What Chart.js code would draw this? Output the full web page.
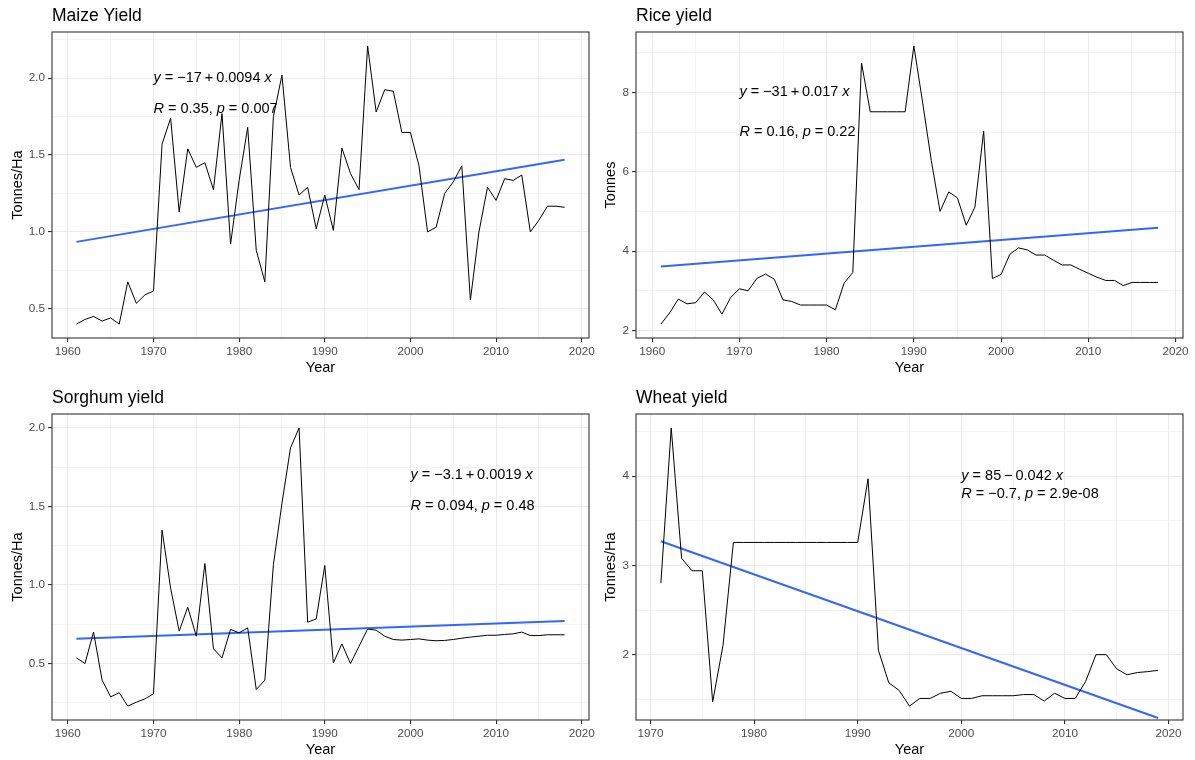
<!DOCTYPE html>
<html>
<head>
<meta charset="utf-8">
<script src="https://cdn.jsdelivr.net/npm/chart.js@4.4.1/dist/chart.umd.min.js"></script>
<style>
  body { margin: 0; background: #fff; width: 1195px; height: 760px; overflow: hidden; position: relative; }
  canvas { position: absolute; }
</style>
</head>
<body>
<canvas id="maize"></canvas>
<canvas id="rice"></canvas>
<canvas id="sorghum"></canvas>
<canvas id="wheat"></canvas>
<script>
// ---- data ----
const yearsA = [1961,1962,1963,1964,1965,1966,1967,1968,1969,1970,
                1971,1972,1973,1974,1975,1976,1977,1978,1979,1980,
                1981,1982,1983,1984,1985,1986,1987,1988,1989,1990,
                1991,1992,1993,1994,1995,1996,1997,1998,1999,2000,
                2001,2002,2003,2004,2005,2006,2007,2008,2009,2010,
                2011,2012,2013,2014,2015,2016,2017,2018];
const yearsWheat = [1971,1972,1973,1974,1975,1976,1977,1978,1979,1980,
                    1981,1982,1983,1984,1985,1986,1987,1988,1989,1990,
                    1991,1992,1993,1994,1995,1996,1997,1998,1999,2000,
                    2001,2002,2003,2004,2005,2006,2007,2008,2009,2010,
                    2011,2012,2013,2014,2015,2016,2017,2018,2019];

const maizeYield = [0.40,0.43,0.45,0.42,0.44,0.40,0.675,0.535,0.59,0.615,
                    1.57,1.74,1.13,1.54,1.42,1.45,1.275,1.77,0.92,1.335,
                    1.68,0.88,0.675,1.75,2.02,1.42,1.24,1.29,1.02,1.24,
                    1.01,1.545,1.38,1.275,2.21,1.78,1.925,1.915,1.647,1.647,
                    1.43,1.0,1.03,1.25,1.325,1.43,0.556,1.0,1.29,1.205,
                    1.346,1.335,1.37,1.0,1.076,1.167,1.167,1.16];
const riceYield = [2.16,2.44,2.79,2.67,2.70,2.97,2.77,2.41,2.83,3.05,
                   3.0,3.31,3.42,3.29,2.77,2.73,2.64,2.64,2.64,2.64,
                   2.52,3.19,3.46,8.74,7.51,7.51,7.51,7.51,7.51,9.17,
                   7.75,6.28,5.0,5.49,5.34,4.65,5.11,7.02,3.31,3.41,
                   3.92,4.08,4.03,3.90,3.90,3.77,3.65,3.65,3.54,3.44,
                   3.34,3.26,3.26,3.13,3.21,3.21,3.21,3.21];
const sorghumYield = [0.536,0.50,0.70,0.394,0.288,0.314,0.229,0.254,0.275,0.307,
                      1.349,0.98,0.706,0.859,0.674,1.137,0.594,0.536,0.717,0.695,
                      0.727,0.335,0.394,1.13,1.52,1.873,2.0,0.763,0.784,1.124,
                      0.504,0.625,0.50,0.61,0.72,0.712,0.674,0.653,0.649,0.653,
                      0.657,0.649,0.645,0.647,0.653,0.661,0.668,0.674,0.68,0.68,
                      0.685,0.689,0.70,0.678,0.678,0.683,0.683,0.683];
const wheatYield = [2.80,4.54,3.08,2.94,2.94,1.47,2.105,3.257,3.257,3.257,
                    3.257,3.257,3.257,3.257,3.257,3.257,3.257,3.257,3.257,3.257,
                    3.97,2.05,1.685,1.60,1.424,1.51,1.51,1.568,1.59,1.51,
                    1.51,1.54,1.54,1.54,1.54,1.553,1.553,1.48,1.568,1.51,
                    1.51,1.70,2.0,2.0,1.84,1.775,1.80,1.81,1.825];

// fitted lm lines (end points)
const trendYearsA = [1961, 2018];
const trendYearsWheat = [1971, 2019];
const maizeTrend = [0.935, 1.47];
const riceTrend = [3.61, 4.59];
const sorghumTrend = [0.657, 0.77];
const wheatTrend = [3.27, 1.29];

// tick positions
const xMajorA = [1960,1970,1980,1990,2000,2010,2020];
const xMinorA = [1965,1975,1985,1995,2005,2015];
const xMajorWheat = [1970,1980,1990,2000,2010,2020];
const xMinorWheat = [1975,1985,1995,2005,2015];
const maizeYMajor = [0.5,1.0,1.5,2.0];
const maizeYMinor = [0.75,1.25,1.75,2.25];
const riceYMajor = [2,4,6,8];
const riceYMinor = [3,5,7,9];
const sorghumYMajor = [0.5,1.0,1.5,2.0];
const sorghumYMinor = [0.25,0.75,1.25,1.75];
const wheatYMajor = [2,3,4];
const wheatYMinor = [1.5,2.5,3.5,4.5];

// regression labels: [x, y of equation, y of R row]
const maizeLabelAt = [1970, 2.0, 1.8];
const riceLabelAt = [1970, 8, 7];
const sorghumLabelAt = [2000, 1.7, 1.5];
const wheatLabelAt = [2000, 4.0, 3.8];

const FONT = '"Liberation Sans", Arial, sans-serif';
Chart.defaults.font.family = FONT;

function expand(vals) {
  const lo = Math.min(...vals), hi = Math.max(...vals);
  const d = (hi - lo) * 0.05;
  return [lo - d, hi + d];
}

function drawRich(ctx, parts, x, y) {
  ctx.textAlign = 'left';
  parts.forEach(([txt, it]) => {
    ctx.font = (it ? 'italic ' : '') + '14.5px ' + FONT;
    ctx.fillText(txt, x, y);
    x += ctx.measureText(txt).width;
  });
}

const ggPanel = {
  id: 'ggPanel',
  afterDatasetsDraw(chart, args, o) {
    const {ctx, chartArea: a, scales: {x, y}} = chart;
    ctx.save();
    ctx.fillStyle = '#000';
    ctx.textBaseline = 'middle';
    const lx = x.getPixelForValue(o.labelAt[0]);
    drawRich(ctx, o.eq, lx, y.getPixelForValue(o.labelAt[1]));
    drawRich(ctx, o.rp, lx, y.getPixelForValue(o.labelAt[2]));

    ctx.strokeStyle = '#333333';
    ctx.lineWidth = 1.1;
    ctx.strokeRect(a.left, a.top, a.right - a.left, a.bottom - a.top);

    ctx.textBaseline = 'alphabetic';
    ctx.font = '17.5px ' + FONT;
    ctx.fillText(o.title, a.left, a.top - 11);

    ctx.font = '14.5px ' + FONT;
    ctx.textAlign = 'center';
    ctx.textBaseline = 'middle';
    ctx.fillText('Year', (a.left + a.right) / 2, a.bottom + 30);
    ctx.translate(a.left - o.yTitleGap, (a.top + a.bottom) / 2);
    ctx.rotate(-Math.PI / 2);
    ctx.fillText(o.yTitle, 0, 0);
    ctx.restore();
  }
};

function axis(range, major, minor, decimals, fitSize, horizontal) {
  return {
    type: 'linear',
    min: range[0], max: range[1],
    afterBuildTicks: s => { s.ticks = major.concat(minor).sort((a, b) => a - b).map(v => ({value: v})); },
    afterFit: s => { if (horizontal) s.height = fitSize; else s.width = fitSize; },
    border: {display: false},
    grid: {
      color: '#EBEBEB',
      lineWidth: c => major.includes(c.tick.value) ? 1.1 : 0.55,
      tickColor: c => major.includes(c.tick.value) ? '#333333' : 'rgba(0,0,0,0)',
      tickWidth: 1.1,
      tickLength: 4,
      drawTicks: true
    },
    ticks: {
      autoSkip: false, maxRotation: 0, padding: 3,
      color: '#4D4D4D', font: {size: 11.7},
      callback: v => major.includes(v) ? v.toFixed(decimals) : ''
    }
  };
}

function panel(p) {
  const cv = document.getElementById(p.id);
  const b = p.box;
  cv.width = b.cw; cv.height = b.ch;
  cv.style.left = b.cl + 'px'; cv.style.top = b.ct + 'px';
  new Chart(cv.getContext('2d'), {
    type: 'line',
    data: {
      datasets: [
        {data: p.years.map((yr, i) => ({x: yr, y: p.values[i]})),
         borderColor: '#000', borderWidth: 1, pointRadius: 0, tension: 0},
        {data: p.trendX.map((yr, i) => ({x: yr, y: p.trendY[i]})),
         borderColor: '#3366FF', borderWidth: 2, pointRadius: 0}
      ]
    },
    options: {
      responsive: false, animation: false, events: [],
      layout: {padding: {top: b.t - b.ct, right: b.cl + b.cw - b.r, left: 0, bottom: 0}},
      plugins: {
        legend: {display: false}, tooltip: {enabled: false},
        ggPanel: {title: p.title, yTitle: p.yTitle, yTitleGap: p.yTitleGap,
                  labelAt: p.labelAt, eq: p.eq, rp: p.rp}
      },
      scales: {
        x: axis(expand(p.years), p.xMajor, p.xMinor, 0, b.ct + b.ch - b.b, true),
        y: axis(expand(p.values), p.yMajor, p.yMinor, p.dec, b.l - b.cl, false)
      }
    },
    plugins: [ggPanel]
  });
}

panel({id: 'maize', title: 'Maize Yield', yTitle: 'Tonnes/Ha', yTitleGap: 34,
  years: yearsA, values: maizeYield, trendX: trendYearsA, trendY: maizeTrend,
  xMajor: xMajorA, xMinor: xMinorA, yMajor: maizeYMajor, yMinor: maizeYMinor, dec: 1,
  labelAt: maizeLabelAt,
  eq: [['y', true], [' = \u221217\u2009+\u20090.0094 ', false], ['x', true]],
  rp: [['R', true], [' = 0.35, ', false], ['p', true], [' = 0.007', false]],
  box: {cl: 0, ct: 0, cw: 612, ch: 380, l: 52, t: 32, r: 589, b: 338}});

panel({id: 'rice', title: 'Rice yield', yTitle: 'Tonnes', yTitleGap: 25,
  years: yearsA, values: riceYield, trendX: trendYearsA, trendY: riceTrend,
  xMajor: xMajorA, xMinor: xMinorA, yMajor: riceYMajor, yMinor: riceYMinor, dec: 0,
  labelAt: riceLabelAt,
  eq: [['y', true], [' = \u221231\u2009+\u20090.017 ', false], ['x', true]],
  rp: [['R', true], [' = 0.16, ', false], ['p', true], [' = 0.22', false]],
  box: {cl: 597, ct: 0, cw: 598, ch: 380, l: 636, t: 32, r: 1183, b: 338}});

panel({id: 'sorghum', title: 'Sorghum yield', yTitle: 'Tonnes/Ha', yTitleGap: 34,
  years: yearsA, values: sorghumYield, trendX: trendYearsA, trendY: sorghumTrend,
  xMajor: xMajorA, xMinor: xMinorA, yMajor: sorghumYMajor, yMinor: sorghumYMinor, dec: 1,
  labelAt: sorghumLabelAt,
  eq: [['y', true], [' = \u22123.1\u2009+\u20090.0019 ', false], ['x', true]],
  rp: [['R', true], [' = 0.094, ', false], ['p', true], [' = 0.48', false]],
  box: {cl: 0, ct: 380, cw: 612, ch: 380, l: 52, t: 414, r: 589, b: 720}});

panel({id: 'wheat', title: 'Wheat yield', yTitle: 'Tonnes/Ha', yTitleGap: 25,
  years: yearsWheat, values: wheatYield, trendX: trendYearsWheat, trendY: wheatTrend,
  xMajor: xMajorWheat, xMinor: xMinorWheat, yMajor: wheatYMajor, yMinor: wheatYMinor, dec: 0,
  labelAt: wheatLabelAt,
  eq: [['y', true], [' = 85\u2009\u2212\u20090.042 ', false], ['x', true]],
  rp: [['R', true], [' = \u22120.7, ', false], ['p', true], [' = 2.9e-08', false]],
  box: {cl: 597, ct: 380, cw: 598, ch: 380, l: 636, t: 414, r: 1183, b: 720}});
</script>
</body>
</html>
